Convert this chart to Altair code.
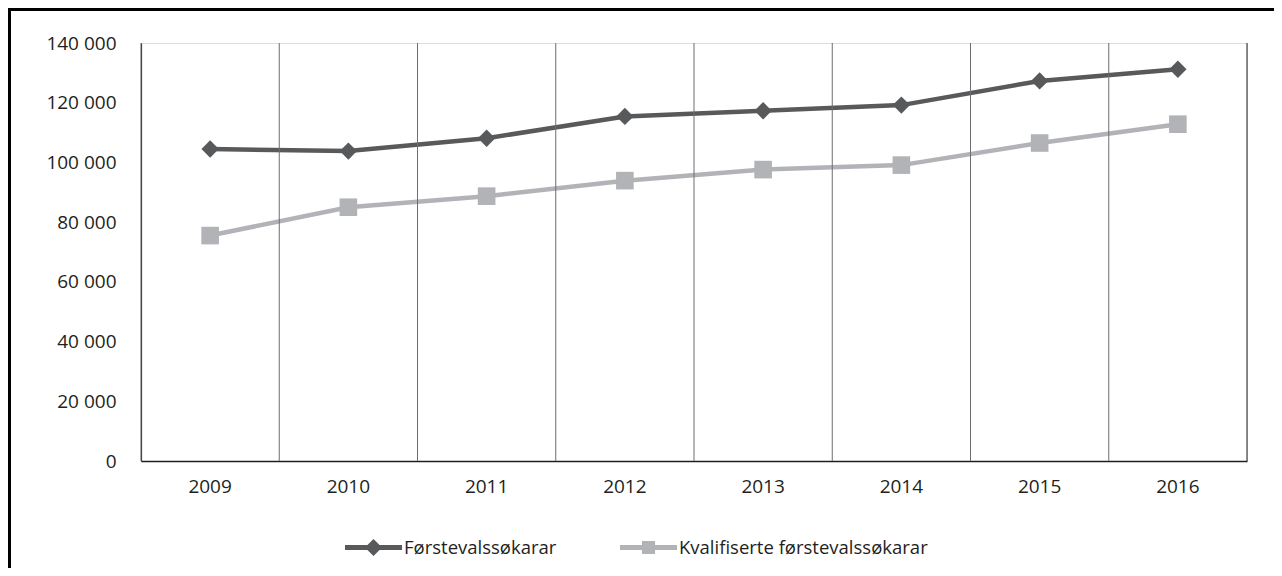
import altair as alt
import pandas as pd

years = ["2009", "2010", "2011", "2012", "2013", "2014", "2015", "2016"]
forstevals = [104500, 103800, 108100, 115400, 117300, 119200, 127300, 131200]
kvalifiserte = [75500, 85000, 88700, 93900, 97600, 99100, 106500, 112800]
series_names = ["Førstevalssøkarar", "Kvalifiserte førstevalssøkarar"]
series_colors = ["#58595b", "#b1b3b6"]
y_ticks = [0, 20000, 40000, 60000, 80000, 100000, 120000, 140000]

rows = []
for i, yr in enumerate(years):
    rows.append({"year": yr, "serie": series_names[0], "value": forstevals[i]})
    rows.append({"year": yr, "serie": series_names[1], "value": kvalifiserte[i]})
df = pd.DataFrame(rows)
years_df = pd.DataFrame({"year": years})
last_df = pd.DataFrame({"year": [years[-1]]})

W, H = 1106, 418
FONT = "Open Sans"
LEGEND_FONT = "Open Sans"

x_scale = alt.Scale(type="band", domain=years, paddingInner=0, paddingOuter=0)
y_scale = alt.Scale(domain=[0, 140000], nice=False)

diamond_leg = ("M-1,-0.088L-0.212,-0.088L0,-0.3L0.212,-0.088L1,-0.088"
               "L1,0.088L0.212,0.088L0,0.3L-0.212,0.088L-1,0.088Z")
square_leg = ("M-1,-0.088L-0.23,-0.088L-0.23,-0.23L0.23,-0.23L0.23,-0.088"
              "L1,-0.088L1,0.088L0.23,0.088L0.23,0.23L-0.23,0.23L-0.23,0.088L-1,0.088Z")

legend = alt.Legend(
    title=None,
    orient="none",
    legendX=204,
    legendY=476,
    direction="horizontal",
    symbolSize=3249,
    symbolStrokeWidth=0,
    labelFont=LEGEND_FONT,
    labelFontSize=18.5,
    labelColor="#231f20",
    labelOffset=2,
    labelLimit=500,
    columnPadding=63,
)

x_axis = alt.Axis(title=None, ticks=False, grid=False, domain=True,
                  domainColor="#231f20", domainWidth=1.5,
                  labelFont=FONT, labelFontSize=19, labelColor="#231f20",
                  labelPadding=16, labelAngle=0)
y_axis = alt.Axis(title=None, ticks=False, grid=False, domain=True,
                  domainColor="#231f20", domainWidth=1.2,
                  values=y_ticks,
                  labelExpr="replace(format(datum.value, ','), ',', ' ')",
                  labelFont=FONT, labelFontSize=19, labelColor="#231f20",
                  labelPadding=25)

layers = []
shapes = ["diamond", "square"]
sizes = [300, 310]
for name, col, shp, sz in zip(series_names, series_colors, shapes, sizes):
    b = alt.Chart(df).transform_filter(alt.datum.serie == name).encode(
        x=alt.X("year:N", scale=x_scale, axis=x_axis),
        y=alt.Y("value:Q", scale=y_scale, axis=y_axis),
    )
    layers.append(b.mark_line(color=col, strokeWidth=4.5))
    layers.append(b.mark_point(color=col, filled=True, opacity=1, strokeWidth=0,
                               shape=shp, size=sz))

grid = alt.Chart(years_df).mark_rule(color="#6d6e71", strokeWidth=1).encode(
    x=alt.X("year:N", bandPosition=0, scale=x_scale, axis=x_axis)
)
right_edge = alt.Chart(last_df).mark_rule(color="#231f20", strokeWidth=1).encode(
    x=alt.X("year:N", bandPosition=1, scale=x_scale, axis=x_axis)
)

legend_layer = alt.Chart(df).transform_filter("false").mark_point(
    filled=True, opacity=1, strokeWidth=0
).encode(
    x=alt.X("year:N", scale=x_scale, axis=x_axis),
    y=alt.Y("value:Q", scale=y_scale, axis=y_axis),
    color=alt.Color("serie:N", scale=alt.Scale(domain=series_names, range=series_colors), legend=legend),
    shape=alt.Shape("serie:N", scale=alt.Scale(domain=series_names, range=[diamond_leg, square_leg]), legend=legend),
)

frame_top = alt.Chart(years_df).mark_rule(color="#000000", strokeWidth=3).encode(
    x=alt.value(-133), x2=alt.value(1200), y=alt.value(-34)
)
frame_left = alt.Chart(years_df).mark_rule(color="#000000", strokeWidth=3).encode(
    x=alt.value(-131.5), y=alt.value(-35.5), y2=alt.value(560)
)

chart = alt.layer(*(layers + [grid, right_edge, legend_layer, frame_top, frame_left])).properties(
    width=W, height=H,
    autosize=alt.AutoSizeParams(type="none"),
    padding={"left": 133, "top": 35, "right": 27, "bottom": 107},
).configure_view(stroke=None).configure(background="white")

chart.save("out.html", embed_options={"renderer": "svg", "actions": False})
